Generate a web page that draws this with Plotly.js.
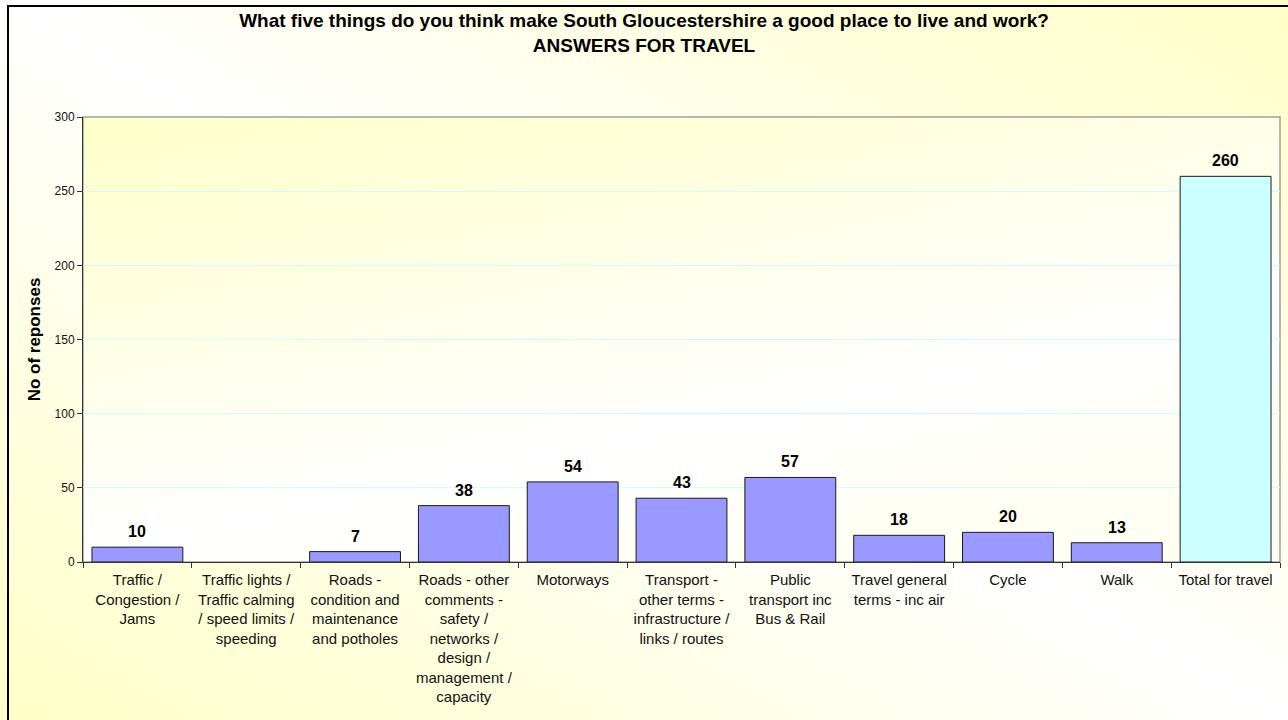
<!DOCTYPE html>
<html>
<head>
<meta charset="utf-8">
<script src="https://cdn.plot.ly/plotly-3.0.1.min.js"></script>
<style>
  html, body { margin: 0; padding: 0; }
  body {
    width: 1288px; height: 720px; overflow: hidden; position: relative;
    background: linear-gradient(to top right, #FFFFC6 0%, #FFFFFF 50%, #FFFFC6 100%);
  }
  #frame {
    position: absolute; left: 7px; top: 5px; width: 1300px; height: 730px;
    border-left: 2px solid #000; border-top: 2px solid #000;
  }
  #chart { position: absolute; left: 0; top: 0; width: 1288px; height: 720px; }
</style>
</head>
<body>
<div id="frame"></div>
<div id="chart"></div>
<script>
// ---- data ----
const categories = [
  'Traffic /<br>Congestion /<br>Jams',
  'Traffic lights /<br>Traffic calming<br>/ speed limits /<br>speeding',
  'Roads -<br>condition and<br>maintenance<br>and potholes',
  'Roads - other<br>comments -<br>safety /<br>networks /<br>design /<br>management /<br>capacity',
  'Motorways',
  'Transport -<br>other terms -<br>infrastructure /<br>links / routes',
  'Public<br>transport inc<br>Bus &amp; Rail',
  'Travel general<br>terms - inc air',
  'Cycle',
  'Walk',
  'Total for travel'
];
const responses = [10, null, 7, 38, 54, 43, 57, 18, 20, 13, 260];
const totalCategory = 'Total for travel';
const yTickValues = [0, 50, 100, 150, 200, 250, 300];

const titleLine1 = 'What five things do you think make South Gloucestershire a good place to live and work?';
const titleLine2 = 'ANSWERS FOR TRAVEL';
const yTitle = 'No of reponses';

// ---- styles ----
const FONT = 'Liberation Sans, Arial, Helvetica, sans-serif';
const barColor = '#9999FF';
const totalColor = '#CCFFFF';

const colors = categories.map(c => c === totalCategory ? totalColor : barColor);

const trace = {
  type: 'bar',
  x: categories,
  y: responses,
  marker: { color: colors, line: { color: '#1a1a1a', width: 1 } },
  hoverinfo: 'x+y',
  showlegend: false
};

const annotations = [];
categories.forEach((c, i) => {
  if (responses[i] !== null && responses[i] !== undefined) {
    annotations.push({
      x: c, y: responses[i], xref: 'x', yref: 'y',
      text: '<b>' + responses[i] + '</b>',
      showarrow: false, yanchor: 'bottom', yshift: 5,
      font: { family: FONT, size: 16, color: '#000' }
    });
  }
});

const plotBg = 'data:image/svg+xml;utf8,' + encodeURIComponent(
  '<svg xmlns="http://www.w3.org/2000/svg" width="100" height="100" preserveAspectRatio="none">' +
  '<defs><linearGradient id="g" x1="0" y1="0" x2="0.55" y2="1">' +
  '<stop offset="0" stop-color="#FFFFC8"/><stop offset="0.75" stop-color="#FFFFFF"/>' +
  '<stop offset="1" stop-color="#FFFFF4"/></linearGradient></defs>' +
  '<rect width="100" height="100" fill="url(#g)"/></svg>');

const layout = {
  width: 1288, height: 720,
  margin: { l: 83, r: 8, t: 117, b: 158, pad: 0 },
  paper_bgcolor: 'rgba(0,0,0,0)',
  plot_bgcolor: 'rgba(0,0,0,0)',
  font: { family: FONT, color: '#000' },
  title: {
    text: '<b>' + titleLine1 + '</b><br><b>' + titleLine2 + '</b>',
    font: { family: FONT, size: 19, color: '#000' },
    x: 0.5, xanchor: 'center', xref: 'container',
    y: 1 - 27 / 720, yanchor: 'top', yref: 'container'
  },
  bargap: 0.165,
  xaxis: {
    type: 'category',
    tickson: 'boundaries',
    ticks: 'outside', ticklen: 5, tickcolor: '#333', tickwidth: 1,
    ticklabelstandoff: 4,
    showline: true, linecolor: '#333', linewidth: 1,
    tickangle: 0,
    tickfont: { family: FONT, size: 15, color: '#111' },
    showgrid: false, zeroline: false,
    fixedrange: true
  },
  yaxis: {
    range: [0, 300],
    tickvals: yTickValues,
    ticks: 'outside', ticklen: 5, tickcolor: '#333', tickwidth: 1,
    showline: true, linecolor: '#333', linewidth: 1,
    tickfont: { family: FONT, size: 12, color: '#111' },
    gridcolor: '#CCFFFF', gridwidth: 1,
    zeroline: false,
    title: { text: '<b>' + yTitle + '</b>', font: { family: FONT, size: 17, color: '#000' }, standoff: 9 },
    fixedrange: true
  },
  shapes: [{
    type: 'rect', xref: 'paper', yref: 'paper', x0: 0, x1: 1, y0: 0, y1: 1,
    line: { color: '#A0A0A0', width: 1.5 }, layer: 'below'
  }],
  images: [{
    source: plotBg, xref: 'paper', yref: 'paper', x: 0, y: 1, sizex: 1, sizey: 1,
    xanchor: 'left', yanchor: 'top', sizing: 'stretch', layer: 'below'
  }],
  annotations: annotations
};

Plotly.newPlot('chart', [trace], layout, { displayModeBar: false, staticPlot: true });
</script>
</body>
</html>
